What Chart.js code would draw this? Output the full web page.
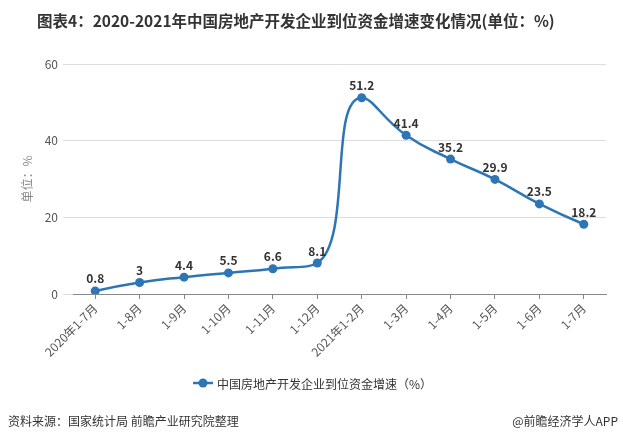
<!DOCTYPE html>
<html><head><meta charset="utf-8">
<script src="https://cdn.jsdelivr.net/npm/chart.js@4/dist/chart.umd.min.js"></script>
<style>
html,body{margin:0;padding:0;background:#fff;}
#wrap{position:relative;width:623px;height:441px;overflow:hidden;font-family:"Noto Sans CJK SC","Noto Sans",sans-serif;}
#title{position:absolute;left:37px;top:9px;white-space:nowrap;font-size:15.5px;font-weight:bold;color:#333;}
#src{position:absolute;left:8px;top:412px;font-size:12px;color:#333;}
#app{position:absolute;right:5px;top:412px;font-size:12px;color:#333;}
canvas{position:absolute;left:0;top:0;}
</style></head>
<body><div id="wrap">
<canvas id="c" width="623" height="441"></canvas>
<div id="title">图表4：2020-2021年中国房地产开发企业到位资金增速变化情况(单位：%)</div>
<div id="src">资料来源：国家统计局 前瞻产业研究院整理</div>
<div id="app">@前瞻经济学人APP</div>
</div>
<script>
const categories = ["2020年1-7月","1-8月","1-9月","1-10月","1-11月","1-12月","2021年1-2月","1-3月","1-4月","1-5月","1-6月","1-7月"];
const growth = [0.8, 3, 4.4, 5.5, 6.6, 8.1, 51.2, 41.4, 35.2, 29.9, 23.5, 18.2];
const yTicks = [0, 20, 40, 60];
const seriesName = "中国房地产开发企业到位资金增速（%）";
const yTitle = "单位：%";
const blue = "#2e75b6";
const font = '"Noto Sans CJK SC","Noto Sans",sans-serif';

function clamp(v, a, b) { const lo = Math.min(a, b), hi = Math.max(a, b); return Math.max(lo, Math.min(hi, v)); }

// constrained smoothing of the control points (curve never bulges past neighbouring values)
const smoothPlugin = {
  id: 'smooth',
  beforeDatasetDraw(chart, args) {
    const line = args.meta.dataset;
    const pts = args.meta.data;
    line.updateControlPoints(chart.chartArea, 'x');
    const s = 0.5, n = pts.length;
    for (let i = 0; i < n; i++) {
      const p = pts[i];
      if (i === 0 || i === n - 1) {
        p.cp1x = p.x; p.cp1y = p.y; p.cp2x = p.x; p.cp2y = p.y;
        continue;
      }
      const a = pts[i - 1], b = pts[i + 1];
      let vx = b.x - a.x, vy = b.y - a.y;
      const l0 = Math.hypot(p.x - a.x, p.y - a.y), l1 = Math.hypot(b.x - p.x, b.y - p.y);
      const r = l1 / (l0 + l1);
      let nx = clamp(p.x + vx * s * r, b.x, p.x);
      let ny = clamp(p.y + vy * s * r, b.y, p.y);
      vx = nx - p.x; vy = ny - p.y;
      let cx = clamp(p.x - vx * l0 / l1, a.x, p.x);
      let cy = clamp(p.y - vy * l0 / l1, a.y, p.y);
      vx = p.x - cx; vy = p.y - cy;
      nx = p.x + vx * l1 / l0; ny = p.y + vy * l1 / l0;
      p.cp1x = cx; p.cp1y = cy; p.cp2x = nx; p.cp2y = ny;
    }
    line._path = undefined;
  }
};

const labelPlugin = {
  id: 'labels',
  afterDatasetsDraw(chart) {
    const ctx = chart.ctx;
    const meta = chart.getDatasetMeta(0);
    ctx.save();
    ctx.font = 'bold 12px ' + font;
    ctx.fillStyle = '#333';
    ctx.textAlign = 'center';
    ctx.textBaseline = 'bottom';
    meta.data.forEach((pt, i) => {
      ctx.fillText(String(growth[i]), pt.x, pt.y - 6);
    });
    // legend
    const cx = 203, cy = 383;
    ctx.strokeStyle = blue; ctx.lineWidth = 2.5;
    ctx.beginPath(); ctx.moveTo(cx - 10, cy); ctx.lineTo(cx + 10, cy); ctx.stroke();
    ctx.fillStyle = blue;
    ctx.beginPath(); ctx.arc(cx, cy, 4.5, 0, Math.PI * 2); ctx.fill();
    ctx.fillStyle = '#333';
    ctx.font = '12px ' + font;
    ctx.textAlign = 'left'; ctx.textBaseline = 'middle';
    ctx.fillText(seriesName, cx + 14, cy + 1);
    ctx.restore();
  }
};

new Chart(document.getElementById('c'), {
  type: 'line',
  data: {
    labels: categories,
    datasets: [{
      label: seriesName,
      data: growth,
      borderColor: blue,
      backgroundColor: blue,
      borderWidth: 2.5,
      pointRadius: 4.5,
      pointBackgroundColor: blue,
      pointBorderColor: blue,
      pointBorderWidth: 0,
      tension: 0.4,
      fill: false
    }]
  },
  options: {
    responsive: false,
    animation: false,
    layout: { padding: { left: 16, right: 17, top: 64, bottom: 0 } },
    plugins: { legend: { display: false }, tooltip: { enabled: false }, title: { display: false } },
    scales: {
      x: {
        offset: true,
        afterFit(s) { s.height = 147; },
        grid: { drawOnChartArea: false, drawTicks: true, tickLength: 5, color: '#888', offset: false },
        border: { color: '#888', width: 1 },
        ticks: { color: '#555', font: { size: 12, family: font }, maxRotation: 45, minRotation: 45, autoSkip: false, padding: 2 }
      },
      y: {
        min: 0, max: 60,
        afterFit(s) { s.width = 57; },
        afterBuildTicks(s) { s.ticks = yTicks.map(v => ({ value: v })); },
        grid: { color: '#ddd', tickLength: 10, drawTicks: true },
        border: { display: false },
        ticks: { color: '#555', font: { size: 12, family: font }, padding: 5 },
        title: { display: true, text: yTitle, color: '#888', font: { size: 12, family: font }, padding: { top: 4, bottom: 4 } }
      }
    }
  },
  plugins: [smoothPlugin, labelPlugin]
});
</script>
</body></html>
